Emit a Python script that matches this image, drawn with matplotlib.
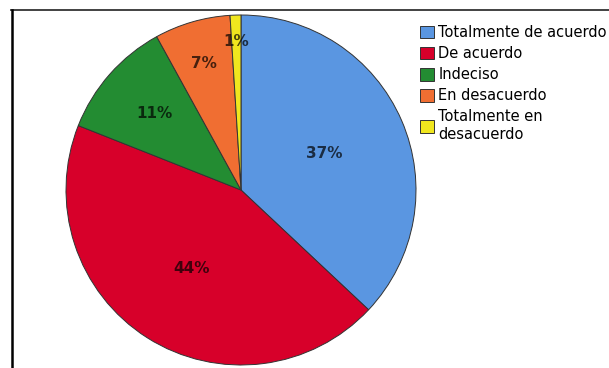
import matplotlib
matplotlib.use("Agg")
import matplotlib.pyplot as plt
from matplotlib.lines import Line2D
import numpy as np

# respuestas de la encuesta (%)
categorias = ["Totalmente de acuerdo", "De acuerdo", "Indeciso",
              "En desacuerdo", "Totalmente en\ndesacuerdo"]
porcentajes = [37, 44, 11, 7, 1]
colores = ["#5a96e1", "#d7002a", "#238c32", "#f06e32", "#f0e61e"]

# distancia radial de cada etiqueta (fraccion del radio)
dist_etiqueta = [0.52, 0.53, 0.66, 0.75, 0.85]

fig = plt.figure(figsize=(6.09, 3.68), dpi=100)
fig.patch.set_facecolor("white")

# circulo de radio 175 px centrado en (241, 190)
W, H = 609, 368
cx, cy, r = 241, 190, 175
ax = fig.add_axes([(cx - r) / W, (H - cy - r) / H, 2 * r / W, 2 * r / H])

wedges, _ = ax.pie(porcentajes, colors=colores, startangle=90, counterclock=False,
                   wedgeprops=dict(edgecolor="#333333", linewidth=0.7))
ax.set_xlim(-1, 1)
ax.set_ylim(-1, 1)
ax.set_aspect("equal")
ax.axis("off")

for w, p, d in zip(wedges, porcentajes, dist_etiqueta):
    ang = np.deg2rad((w.theta1 + w.theta2) / 2)
    ax.text(d * np.cos(ang), d * np.sin(ang), f"{p}%", ha="center", va="center",
            fontsize=11, fontweight="bold", color="black", alpha=0.7)

leg = fig.legend(wedges, categorias, loc="upper left",
                 bbox_to_anchor=(420 / W, 1 - 25 / H), frameon=False,
                 fontsize=10.5, handlelength=0.95, handleheight=0.95,
                 handletextpad=0.3, labelspacing=0.42, borderpad=0,
                 borderaxespad=0)

# marco del grafico (solo borde superior e izquierdo visibles)
fig.add_artist(Line2D([11 / W, 1], [1 - 10 / H, 1 - 10 / H], color="#333333", linewidth=1.3))
fig.add_artist(Line2D([12 / W, 12 / W], [0, 1 - 10 / H], color="black", linewidth=1.8))

fig.savefig("out.png", dpi=100)
